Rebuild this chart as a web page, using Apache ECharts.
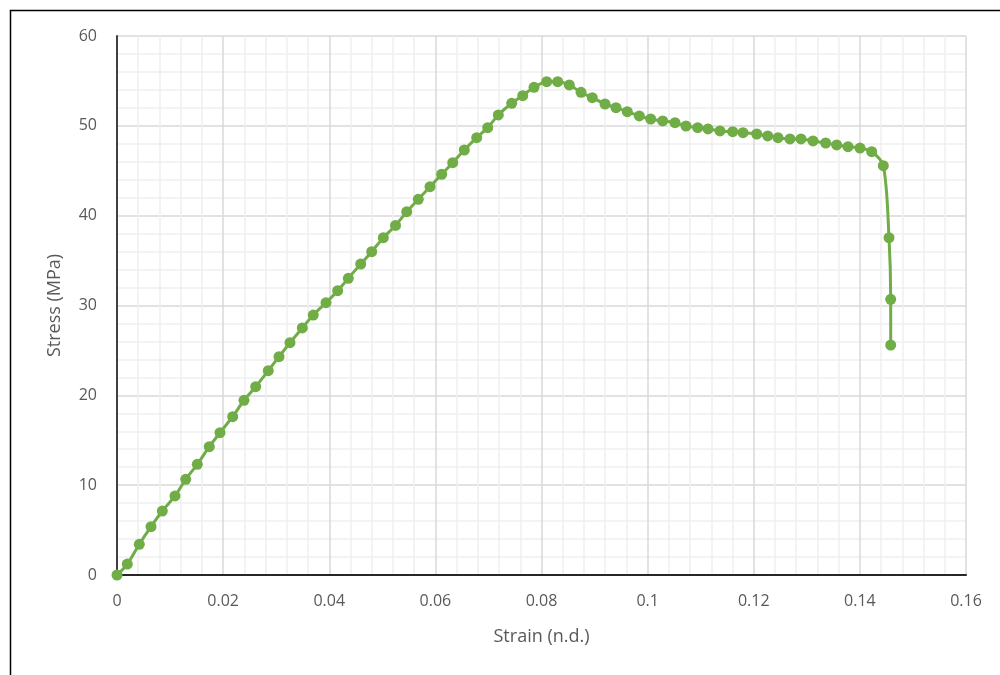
<!DOCTYPE html>
<html>
<head>
<meta charset="utf-8">
<title>Stress-Strain</title>
<script src="https://cdn.jsdelivr.net/npm/echarts@6/dist/echarts.min.js"></script>
<style>
  html, body { margin: 0; padding: 0; background: #fff; }
  #chart { width: 1000px; height: 675px; }
</style>
</head>
<body>
<div id="chart"></div>
<script>
// strain (n.d.) and stress (MPa)
var strain = [
  0, 0.00194, 0.00420, 0.00641, 0.00854, 0.01093, 0.01295, 0.01513, 0.01739, 0.01941,
  0.02180, 0.02393, 0.02614, 0.02851, 0.03053, 0.03260, 0.03492, 0.03699, 0.03939, 0.04159,
  0.04359, 0.04593, 0.04800, 0.05019, 0.05249, 0.05460, 0.05678, 0.05899, 0.06119, 0.06327,
  0.06545, 0.06779, 0.06986, 0.07186, 0.07438, 0.07646, 0.07859, 0.08098, 0.08305, 0.08524,
  0.08745, 0.08957, 0.09197, 0.09404, 0.09617, 0.09843, 0.10058, 0.10284, 0.10516, 0.10723,
  0.10944, 0.11138, 0.11364, 0.11603, 0.11798, 0.12056, 0.12263, 0.12457, 0.12683, 0.12891,
  0.13117, 0.13356, 0.13563, 0.13776, 0.14003, 0.14223, 0.14442, 0.14549, 0.14581, 0.14581
];
var stress = [
  0, 1.22, 3.42, 5.38, 7.12, 8.80, 10.65, 12.32, 14.28, 15.84,
  17.62, 19.45, 20.96, 22.74, 24.30, 25.86, 27.50, 28.94, 30.31, 31.65,
  33.03, 34.62, 35.99, 37.55, 38.91, 40.44, 41.82, 43.23, 44.61, 45.90,
  47.31, 48.68, 49.80, 51.21, 52.51, 53.36, 54.29, 54.92, 54.92, 54.55,
  53.73, 53.13, 52.43, 52.02, 51.58, 51.10, 50.76, 50.54, 50.35, 49.98,
  49.80, 49.65, 49.43, 49.35, 49.24, 49.09, 48.87, 48.68, 48.54, 48.54,
  48.32, 48.09, 47.87, 47.68, 47.53, 47.12, 45.56, 37.55, 30.69, 25.60
];

var points = strain.map(function (s, i) { return [s, stress[i]]; });

var textColor = '#595959';
var font = 'Open Sans, Liberation Sans, sans-serif';

var chart = echarts.init(document.getElementById('chart'), null, { renderer: 'canvas' });
chart.setOption({
  animation: false,
  backgroundColor: '#fff',
  grid: { left: 117, right: 34, top: 36, bottom: 100 },
  graphic: [{
    type: 'rect',
    shape: { x: 10.5, y: 10.5, width: 1100, height: 800 },
    style: { fill: 'none', stroke: '#000', lineWidth: 1.5 },
    silent: true
  }],
  xAxis: {
    type: 'value',
    min: 0, max: 0.16, interval: 0.02,
    name: 'Strain (n.d.)',
    nameLocation: 'middle',
    nameGap: 53,
    nameTextStyle: { color: textColor, fontSize: 18, fontFamily: font },
    axisLine: { show: true, onZero: false, lineStyle: { color: '#262626', width: 2 } },
    axisTick: { show: false },
    axisLabel: { color: textColor, fontSize: 16, fontFamily: font, margin: 18 },
    splitLine: { show: true, lineStyle: { color: '#d9d9d9', width: 1.5 } },
    minorTick: { show: false, splitNumber: 5 },
    minorSplitLine: { show: true, lineStyle: { color: '#efefef', width: 1.5 } }
  },
  yAxis: {
    type: 'value',
    min: 0, max: 60, interval: 10,
    name: 'Stress (MPa)',
    nameLocation: 'middle',
    nameGap: 53,
    nameTextStyle: { color: textColor, fontSize: 18, fontFamily: font },
    axisLine: { show: true, onZero: false, lineStyle: { color: '#404040', width: 2 } },
    axisTick: { show: false },
    axisLabel: { color: textColor, fontSize: 16, fontFamily: font, margin: 20 },
    splitLine: { show: true, lineStyle: { color: '#d9d9d9', width: 1.5 } },
    minorTick: { show: false, splitNumber: 5 },
    minorSplitLine: { show: true, lineStyle: { color: '#efefef', width: 1.5 } }
  },
  series: [{
    type: 'line',
    data: points,
    smooth: 0.3,
    symbol: 'circle',
    symbolSize: 11,
    showAllSymbol: true,
    lineStyle: { color: '#70ad47', width: 3 },
    itemStyle: { color: '#70ad47' },
    clip: false
  }]
});
</script>
</body>
</html>
